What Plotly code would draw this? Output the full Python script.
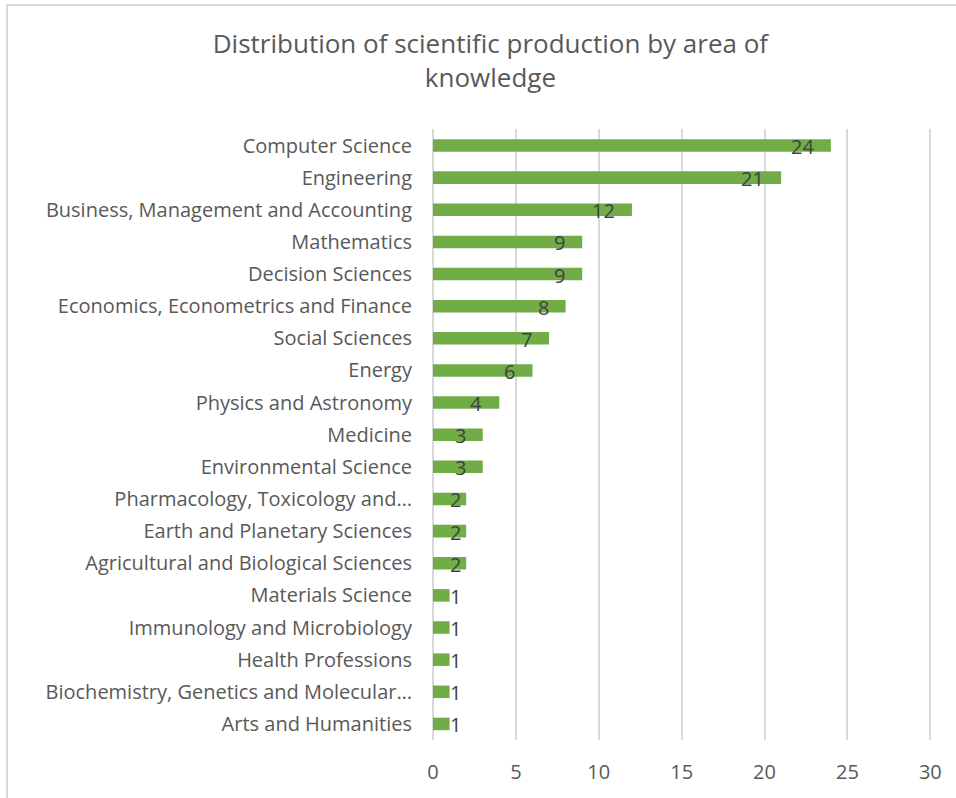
import plotly.graph_objects as go

categories = [
    "Computer Science",
    "Engineering",
    "Business, Management and Accounting",
    "Mathematics",
    "Decision Sciences",
    "Economics, Econometrics and Finance",
    "Social Sciences",
    "Energy",
    "Physics and Astronomy",
    "Medicine",
    "Environmental Science",
    "Pharmacology, Toxicology and…",
    "Earth and Planetary Sciences",
    "Agricultural and Biological Sciences",
    "Materials Science",
    "Immunology and Microbiology",
    "Health Professions",
    "Biochemistry, Genetics and Molecular…",
    "Arts and Humanities",
]
values = [24, 21, 12, 9, 9, 8, 7, 6, 4, 3, 3, 2, 2, 2, 1, 1, 1, 1, 1]
x_ticks = [0, 5, 10, 15, 20, 25, 30]

FONT = "Open Sans"
GREEN = "#70AD47"
GREY = "#595959"
L, R, T, B = 433, 24, 129, 58
PW, PH = 956 - L - R, 798 - T - B

fig = go.Figure()
fig.add_trace(go.Bar(
    x=values, y=categories, orientation="h",
    marker=dict(color=GREEN, line=dict(width=0)),
    width=0.39, hoverinfo="x+y",
))

annotations = []
for c, v in zip(categories, values):
    if v >= 3:
        annotations.append(dict(x=v, y=c, xref="x", yref="y", text=str(v),
                                showarrow=False, xanchor="right", xshift=-15, yshift=-1,
                                font=dict(family=FONT, size=20, color="#404040")))
    else:
        annotations.append(dict(x=0, y=c, xref="x", yref="y", text=str(v),
                                showarrow=False, xanchor="left", xshift=15, yshift=-1,
                                font=dict(family=FONT, size=20, color="#404040")))

fig.update_layout(
    width=956, height=798,
    paper_bgcolor="white", plot_bgcolor="white",
    margin=dict(l=L, r=R, t=T, b=B),
    title=dict(text="Distribution of scientific production by area of<br>knowledge",
               x=0.513, xanchor="center", y=0.933, yanchor="top",
               font=dict(family=FONT, size=26, color=GREY)),
    xaxis=dict(range=[0, 30.1], tickvals=x_ticks, showgrid=True, gridcolor="#D9D9D9",
               gridwidth=1.5, zeroline=True, zerolinecolor="#D9D9D9", zerolinewidth=1.5,
               showline=False, ticks="",
               ticklabelstandoff=18,
               tickfont=dict(family=FONT, size=20, color=GREY)),
    yaxis=dict(autorange="reversed", showgrid=False, showline=False, ticks="",
               ticklabelstandoff=20,
               tickfont=dict(family=FONT, size=20, color=GREY)),
    annotations=annotations,
    showlegend=False,
    shapes=[dict(type="rect", xref="paper", yref="paper",
                 x0=(7 - L) / PW, x1=(980 - L) / PW,
                 y0=-(B + 20) / PH, y1=1 + (T - 5) / PH,
                 line=dict(color="#D9D9D9", width=2))],
)

fig.write_html("out.html", config={"displayModeBar": False},
               post_script="document.body.style.margin='0';")
